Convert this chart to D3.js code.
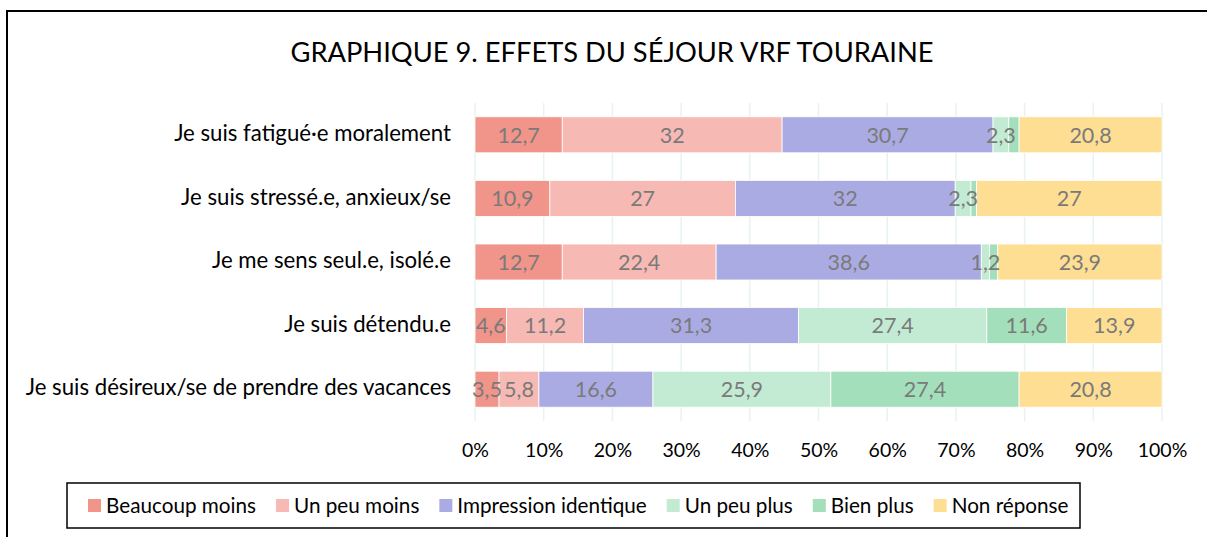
<!DOCTYPE html>
<html><head><meta charset="utf-8">
<script src="https://cdn.jsdelivr.net/npm/d3@7"></script>
<style>body{margin:0;background:#fff}text{font-family:Lato,"Noto Sans",sans-serif}</style>
</head><body>
<svg id="c" width="1207" height="537"></svg>
<script>
const categories = ["Je suis fatigué·e moralement","Je suis stressé.e, anxieux/se","Je me sens seul.e, isolé.e","Je suis détendu.e","Je suis désireux/se de prendre des vacances"];
const seriesNames = ["Beaucoup moins","Un peu moins","Impression identique","Un peu plus","Bien plus","Non réponse"];
const beaucoupMoins = [12.7,10.9,12.7,4.6,3.5];
const unPeuMoins = [32,27,22.4,11.2,5.8];
const impressionIdentique = [30.7,32,38.6,31.3,16.6];
const unPeuPlus = [2.3,2.3,1.2,27.4,25.9];
const bienPlus = [1.5,0.8,1.2,11.6,27.4];
const nonReponse = [20.8,27,23.9,13.9,20.8];
const unlabeled = [[4,0],[4,1],[4,2]]; // [series index, category index]
const tickValues = [0,0.1,0.2,0.3,0.4,0.5,0.6,0.7,0.8,0.9,1];
const tickLabels = ["0%","10%","20%","30%","40%","50%","60%","70%","80%","90%","100%"];
const title = "GRAPHIQUE 9. EFFETS DU SÉJOUR VRF TOURAINE";
const colors = ["#F1948A","#F7B9B3","#ABABE4","#C3EBD3","#A3DFBB","#FDDE93"];

const seriesValues = [beaucoupMoins,unPeuMoins,impressionIdentique,unPeuPlus,bienPlus,nonReponse];
const rows = categories.map((c,i)=>{
  const r = {cat:c};
  const tot = d3.sum(seriesValues, s=>s[i]);
  seriesNames.forEach((n,k)=>{ r[n] = seriesValues[k][i]/tot; r[n+"_raw"] = seriesValues[k][i]; });
  return r;
});

const svg = d3.select("#c");
svg.append("rect").attr("x",7).attr("y",11).attr("width",1215).attr("height",540)
  .attr("fill","#fff").attr("stroke","#000").attr("stroke-width",2);

svg.append("text").attr("x",612).attr("y",62).attr("text-anchor","middle")
  .attr("font-size",27.3).attr("fill","#000").text(title);

const x = d3.scaleLinear().domain([0,1]).range([475,1162]);
const y = d3.scaleBand().domain(categories).range([103,421]).paddingInner(0.434).paddingOuter(0.217);

// gridlines
svg.append("g").selectAll("line").data(tickValues).join("line")
  .attr("x1",d=>x(d)).attr("x2",d=>x(d)).attr("y1",103).attr("y2",421)
  .attr("stroke","#E6F4EC").attr("stroke-width",1.5);

const stack = d3.stack().keys(seriesNames)(rows);
const g = svg.append("g");
stack.forEach((layer,k)=>{
  g.append("g").selectAll("rect").data(layer).join("rect")
    .attr("x",d=>x(d[0])).attr("width",d=>x(d[1])-x(d[0]))
    .attr("y",d=>y(d.data.cat)).attr("height",y.bandwidth())
    .attr("fill",colors[k]).attr("stroke","#fff").attr("stroke-width",0.8);
});
stack.forEach((layer,k)=>{
  g.append("g").selectAll("text").data(layer.filter((d,i)=>!unlabeled.some(u=>u[0]===k&&u[1]===i))).join("text")
    .attr("x",d=>(x(d[0])+x(d[1]))/2).attr("y",d=>y(d.data.cat)+y.bandwidth()/2)
    .attr("dy","0.36em").attr("text-anchor","middle").attr("font-size",21.5).attr("fill","#7A7A7A")
    .text(d=>String(d.data[seriesNames[k]+"_raw"]).replace(".",","));
});

// y axis labels
const yAxis = d3.axisLeft(y).tickSize(0).tickPadding(0);
const ya = svg.append("g").attr("transform","translate(451,-1)").call(yAxis);
ya.select(".domain").remove();
ya.selectAll("text").attr("font-size",22.2).attr("fill","#000").attr("font-family","Lato");

// x axis labels
const xAxis = d3.axisBottom(x).tickValues(tickValues).tickFormat((d,i)=>tickLabels[i]).tickSize(0).tickPadding(0);
const xa = svg.append("g").attr("transform","translate(0,443)").call(xAxis);
xa.select(".domain").remove();
xa.selectAll("text").attr("font-size",19.5).attr("fill","#000").attr("font-family","Lato");

// legend
const lg = svg.append("g");
lg.append("rect").attr("x",67).attr("y",483).attr("width",1013).attr("height",45)
  .attr("fill","#fff").attr("stroke","#000").attr("stroke-width",1.5);
let lx = 88;
seriesNames.forEach((n,k)=>{
  lg.append("rect").attr("x",lx).attr("y",499).attr("width",13).attr("height",13).attr("fill",colors[k]);
  const t = lg.append("text").attr("x",lx+18).attr("y",506).attr("dy","0.36em").attr("font-size",20.7).attr("fill","#000").text(n);
  lx += 18 + t.node().getComputedTextLength() + 20;
});
</script>
</body></html>
